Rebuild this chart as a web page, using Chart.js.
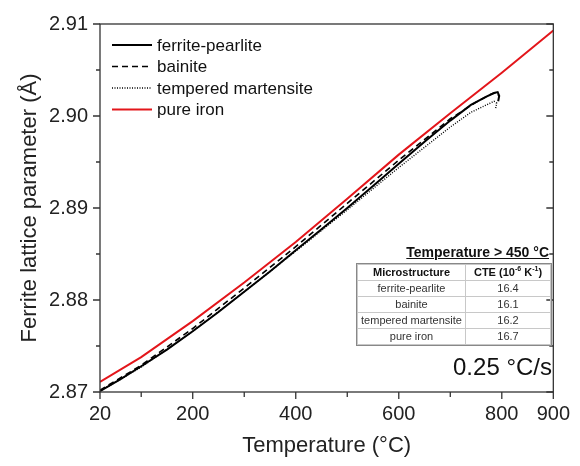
<!DOCTYPE html>
<html>
<head>
<meta charset="utf-8">
<script src="https://cdn.jsdelivr.net/npm/chart.js@4"></script>
<style>
  body { margin: 0; background: #fff; }
  #wrap { position: relative; width: 580px; height: 466px; font-family: "Liberation Sans", Arial, sans-serif; }
  #cteTitle { position: absolute; right: 31px; top: 244px; font-size: 14px; font-weight: bold; text-decoration: underline; color: #111; }
  #cte { position: absolute; left: 357px; top: 264px; border-collapse: collapse; font-size: 11px; color: #333; }
  #cte td, #cte th { border: 1px solid #c8c8c8; height: 15px; padding: 0; text-align: center; line-height: 15px; }
  #cte th { font-weight: bold; color: #111; }
  #cte sup { font-size: 7px; line-height: 0; }
  #cte { outline: 1px solid #888; }
  #rate { position: absolute; right: 28px; top: 353px; font-size: 24px; color: #111; }
</style>
</head>
<body>
<div id="wrap">
  <canvas id="chart" width="580" height="466"></canvas>
  <div id="cteTitle">Temperature &gt; 450 °C</div>
  <table id="cte">
    <tr><th style="width:107px">Microstructure</th><th style="width:84px">CTE (10<sup>-6</sup> K<sup>-1</sup>)</th></tr>
    <tr><td>ferrite-pearlite</td><td>16.4</td></tr>
    <tr><td>bainite</td><td>16.1</td></tr>
    <tr><td>tempered martensite</td><td>16.2</td></tr>
    <tr><td>pure iron</td><td>16.7</td></tr>
  </table>
  <div id="rate">0.25 °C/s</div>
</div>
<script>
// ferrite-pearlite
const tempFP = [20, 60, 100, 150, 200, 250, 300, 350, 400, 450, 500, 550, 600, 650, 700, 740, 770, 785, 792, 795, 793];
const latFP = [2.8701, 2.8714, 2.8728, 2.8746, 2.8766, 2.8787, 2.8809, 2.8831, 2.8854, 2.8877, 2.8900, 2.8924, 2.8948, 2.8972, 2.8995, 2.9012, 2.9021, 2.9025, 2.9026, 2.9022, 2.9016];
// bainite
const tempB = [20, 100, 200, 300, 400, 500, 600, 700, 750, 780, 790, 795];
const latB = [2.8702, 2.8729, 2.8769, 2.8813, 2.8858, 2.8905, 2.8952, 2.8997, 2.9015, 2.9024, 2.9026, 2.9021];
// tempered martensite
const tempTM = [20, 100, 200, 300, 400, 500, 600, 650, 700, 740, 770, 785, 790, 788];
const latTM = [2.8701, 2.8727, 2.8766, 2.8809, 2.8853, 2.8898, 2.8944, 2.8966, 2.8988, 2.9004, 2.9012, 2.9016, 2.9014, 2.9008];
// pure iron
const tempFe = [20, 100, 200, 300, 400, 500, 600, 700, 800, 900];
const latFe = [2.8711, 2.8738, 2.8777, 2.8819, 2.8863, 2.8910, 2.8958, 2.9003, 2.9047, 2.9093];

const xTicks = [20, 100, 200, 300, 400, 500, 600, 700, 800, 900];
const xLabels = [20, 200, 400, 600, 800, 900];
const yTicks = [2.87, 2.875, 2.88, 2.885, 2.89, 2.895, 2.90, 2.905, 2.91];

const FONT = '"Liberation Sans", Arial, sans-serif';

function pts(t, a) {
  return t.map((v, i) => ({ x: v, y: a[i] }));
}

const frameTicks = {
  id: 'frameTicks',
  afterDraw(chart) {
    const ctx = chart.ctx;
    const { left, right, top, bottom } = chart.chartArea;
    const xs = chart.scales.x, ys = chart.scales.y;
    ctx.save();
    ctx.strokeStyle = '#333';
    ctx.lineWidth = 1.3;
    ctx.strokeRect(left, top, right - left, bottom - top);
    ctx.beginPath();
    xTicks.forEach(v => {
      const px = xs.getPixelForValue(v);
      const len = xLabels.includes(v) ? 7 : 5;
      ctx.moveTo(px, bottom);
      ctx.lineTo(px, bottom + len);
    });
    yTicks.forEach((v, i) => {
      const py = ys.getPixelForValue(v);
      const len = i % 2 === 0 ? 7 : 4;
      ctx.moveTo(left, py);
      ctx.lineTo(left - len, py);
      ctx.moveTo(right, py);
      ctx.lineTo(right - len, py);
    });
    ctx.stroke();

    // legend
    ctx.font = '17px ' + FONT;
    ctx.textBaseline = 'middle';
    chart.data.datasets.forEach((ds, i) => {
      const y = 45 + i * 21.5;
      ctx.beginPath();
      ctx.strokeStyle = ds.borderColor;
      ctx.lineWidth = ds.borderWidth;
      ctx.setLineDash(ds.borderDash || []);
      ctx.moveTo(112, y);
      ctx.lineTo(152, y);
      ctx.stroke();
      ctx.setLineDash([]);
      ctx.fillStyle = '#111';
      ctx.fillText(ds.label, 157, y + 1);
    });
    ctx.restore();
  }
};

new Chart(document.getElementById('chart'), {
  type: 'line',
  data: {
    datasets: [
      { label: 'ferrite-pearlite', data: pts(tempFP, latFP), borderColor: '#000', borderWidth: 2 },
      { label: 'bainite', data: pts(tempB, latB), borderColor: '#000', borderWidth: 1.6, borderDash: [6, 4] },
      { label: 'tempered martensite', data: pts(tempTM, latTM), borderColor: '#000', borderWidth: 1.4, borderDash: [1, 1.5] },
      { label: 'pure iron', data: pts(tempFe, latFe), borderColor: '#e3161b', borderWidth: 2 }
    ]
  },
  options: {
    responsive: false,
    animation: false,
    layout: { padding: { left: 0, right: 20, top: 20, bottom: 0 } },
    elements: { point: { radius: 0 }, line: { tension: 0, fill: false } },
    plugins: { legend: { display: false }, tooltip: { enabled: false } },
    scales: {
      x: {
        type: 'linear',
        min: 20,
        max: 900,
        afterBuildTicks: s => { s.ticks = xTicks.map(v => ({ value: v })); },
        afterFit: s => { s.height = 74; },
        grid: { display: false, drawTicks: false },
        border: { display: false },
        ticks: {
          autoSkip: false,
          maxRotation: 0,
          padding: 10,
          color: '#222',
          font: { family: FONT, size: 20 },
          callback: v => xLabels.includes(v) ? String(v) : ''
        },
        title: {
          display: true,
          text: 'Temperature (°C)',
          color: '#222',
          font: { family: FONT, size: 22 },
          padding: { top: 0, bottom: 7 }
        }
      },
      y: {
        min: 2.87,
        max: 2.91,
        afterBuildTicks: s => { s.ticks = yTicks.map(v => ({ value: v })); },
        afterFit: s => { s.width = 100; },
        grid: { display: false, drawTicks: false },
        border: { display: false },
        ticks: {
          autoSkip: false,
          padding: 12,
          color: '#222',
          font: { family: FONT, size: 20 },
          callback: v => Math.abs(v * 100 - Math.round(v * 100)) < 1e-6 ? v.toFixed(2) : ''
        },
        title: {
          display: true,
          text: 'Ferrite lattice parameter (Å)',
          color: '#222',
          font: { family: FONT, size: 22 },
          padding: { top: 17, bottom: 0 }
        }
      }
    }
  },
  plugins: [frameTicks]
});
</script>
</body>
</html>
